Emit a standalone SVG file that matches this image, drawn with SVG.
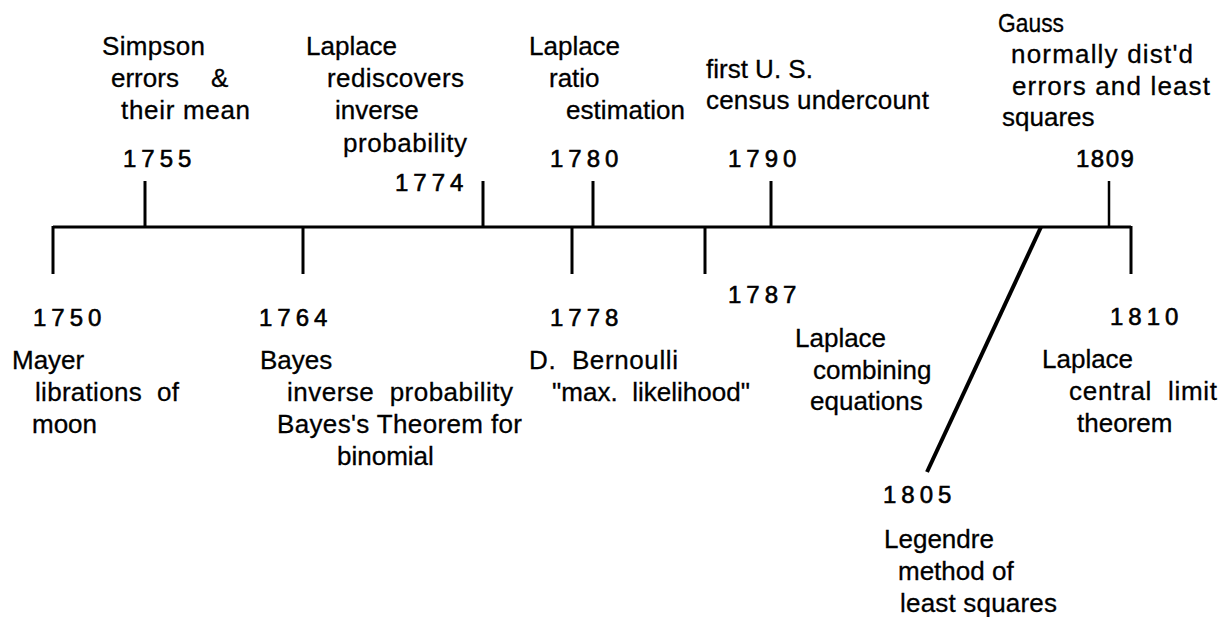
<svg xmlns="http://www.w3.org/2000/svg" width="1226" height="617" viewBox="0 0 1226 617">
<style>
text{font-family:"Liberation Sans",Arial,sans-serif;font-size:26px;fill:#000;stroke:#000;stroke-width:0.3;white-space:pre}
.yr{font-size:24px;letter-spacing:5px;stroke-width:0.6}
.ln{stroke:#000;stroke-width:3;fill:none;stroke-linecap:butt}
</style>
<rect width="1226" height="617" fill="#fff"/>
<g id="connectors">
<line class="ln" x1="53" y1="227" x2="1131" y2="227"/>
<line class="ln" x1="53" y1="226" x2="53" y2="274"/>
<line class="ln" x1="145" y1="181" x2="145" y2="227"/>
<line class="ln" x1="303" y1="227" x2="303" y2="274"/>
<line class="ln" x1="483" y1="181" x2="483" y2="227"/>
<line class="ln" x1="572" y1="227" x2="572" y2="274"/>
<line class="ln" x1="593" y1="181" x2="593" y2="227"/>
<line class="ln" x1="705" y1="227" x2="705" y2="274"/>
<line class="ln" x1="771" y1="181" x2="771" y2="227"/>
<line class="ln" x1="1109" y1="181" x2="1109" y2="227" style="stroke-width:2.5"/>
<line class="ln" x1="1131" y1="226" x2="1131" y2="274"/>
<line class="ln" x1="1041" y1="227" x2="927" y2="472" style="stroke-width:4"/>
</g>
<g id="e1750">
<text class="yr" x="33" y="326">1750</text>
<text x="12" y="369">Mayer</text>
<text x="35" y="401" textLength="144" lengthAdjust="spacing">librations  of</text>
<text x="32" y="433">moon</text>
</g>
<g id="e1755">
<text x="102" y="55" textLength="103" lengthAdjust="spacing">Simpson</text>
<text x="111" y="87">errors<tspan x="211">&amp;</tspan></text>
<text x="121" y="119" textLength="129" lengthAdjust="spacing">their mean</text>
<text class="yr" x="123" y="167">1755</text>
</g>
<g id="e1764">
<text class="yr" x="259" y="326">1764</text>
<text x="260" y="369">Bayes</text>
<text x="287" y="401" textLength="226" lengthAdjust="spacing">inverse  probability</text>
<text x="277" y="433" textLength="245" lengthAdjust="spacing">Bayes's Theorem for</text>
<text x="337" y="465">binomial</text>
</g>
<g id="e1774">
<text x="306" y="55">Laplace</text>
<text x="327" y="87" textLength="137" lengthAdjust="spacing">rediscovers</text>
<text x="335" y="119">inverse</text>
<text x="343" y="152" textLength="124" lengthAdjust="spacing">probability</text>
<text class="yr" x="395" y="191">1774</text>
</g>
<g id="e1778">
<text class="yr" x="550" y="326">1778</text>
<text x="529" y="369" textLength="149" lengthAdjust="spacing">D.  Bernoulli</text>
<text x="552" y="401" textLength="198" lengthAdjust="spacing">"max.  likelihood"</text>
</g>
<g id="e1780">
<text x="529" y="55">Laplace</text>
<text x="549" y="87">ratio</text>
<text x="566" y="119" textLength="119" lengthAdjust="spacing">estimation</text>
<text class="yr" x="550" y="167">1780</text>
</g>
<g id="e1787">
<text class="yr" x="728" y="303">1787</text>
<text x="795" y="347">Laplace</text>
<text x="813" y="379">combining</text>
<text x="810" y="410">equations</text>
</g>
<g id="e1790">
<text x="706" y="78">first U. S.</text>
<text x="706" y="109" textLength="223" lengthAdjust="spacing">census undercount</text>
<text class="yr" x="728" y="167">1790</text>
</g>
<g id="e1805">
<text class="yr" x="883" y="503">1805</text>
<text x="884" y="548">Legendre</text>
<text x="898" y="580">method of</text>
<text x="900" y="612" textLength="157" lengthAdjust="spacing">least squares</text>
</g>
<g id="e1809">
<text x="998" y="32" textLength="66" lengthAdjust="spacingAndGlyphs">Gauss</text>
<text x="1011" y="63" textLength="182" lengthAdjust="spacing">normally dist'd</text>
<text x="1012" y="95" textLength="198" lengthAdjust="spacing">errors and least</text>
<text x="1002" y="126">squares</text>
<text class="yr" x="1076" y="167" style="letter-spacing:1.5px">1809</text>
</g>
<g id="e1810">
<text class="yr" x="1110" y="325">1810</text>
<text x="1042" y="368">Laplace</text>
<text x="1069" y="400" textLength="148" lengthAdjust="spacing">central  limit</text>
<text x="1077" y="432">theorem</text>
</g>
</svg>
